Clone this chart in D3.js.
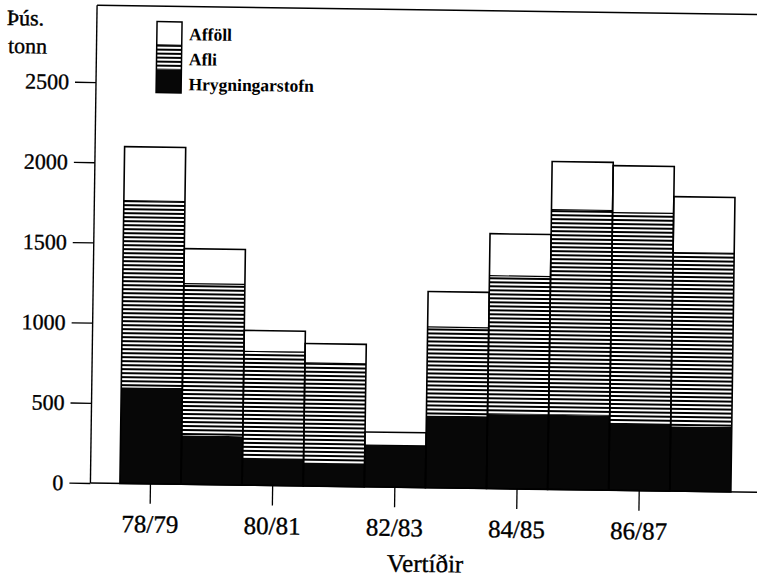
<!DOCTYPE html>
<html>
<head>
<meta charset="utf-8">
<script src="https://cdn.jsdelivr.net/npm/d3@7"></script>
<style>
  html, body { margin: 0; padding: 0; background: #fff; }
  svg { display: block; }
  text { font-family: "Liberation Serif", "Times New Roman", serif; fill: #000; }
</style>
</head>
<body>
<svg id="chart" width="757" height="580"></svg>
<script>
// ---- data (thousand tonnes) ----
const seasons = ["78/79","79/80","80/81","81/82","82/83","83/84","84/85","85/86","86/87","87/88"];
const hrygningarstofn = [600, 305, 170, 145, 260, 450, 465, 465, 420, 405];
const afli            = [1163, 946, 664, 622,   0, 552, 862, 1279, 1311, 1082];
const affoll          = [337, 218, 131, 121,  82, 221, 262, 300, 293, 349];
const xTickLabels = ["78/79","80/81","82/83","84/85","86/87"];
const yTickValues = [0, 500, 1000, 1500, 2000, 2500];
const seriesKeys = ["Hrygningarstofn", "Afli", "Afföll"];
const legendOrder = ["Afföll", "Afli", "Hrygningarstofn"];

const rows = seasons.map((s, i) => ({
  season: s,
  "Hrygningarstofn": hrygningarstofn[i],
  "Afli": afli[i],
  "Afföll": affoll[i]
}));

const svg = d3.select("#chart");
const defs = svg.append("defs");
const hatch = defs.append("pattern")
  .attr("id", "hatch").attr("patternUnits", "userSpaceOnUse")
  .attr("width", 8).attr("height", 4);
hatch.append("rect").attr("width", 8).attr("height", 4).attr("fill", "#fff");
hatch.append("rect").attr("y", 0).attr("width", 8).attr("height", 2).attr("fill", "#000");

const fills = { "Hrygningarstofn": "#070707", "Afli": "url(#hatch)", "Afföll": "#fff" };

// whole scanned page is slightly rotated
const g = svg.append("g").attr("transform", "rotate(0.8,400,300)");

const axisX = 93;
const topY = 9.5;
const x = d3.scaleBand().domain(seasons).range([122.5, 733.5]).padding(0);
const y = d3.scaleLinear().domain([0, 2500]).range([487.3, 86.3]);

const stack = d3.stack().keys(seriesKeys);
const stacked = stack(rows);

// bars
const layers = g.append("g").selectAll("g").data(stacked).join("g")
  .attr("fill", d => fills[d.key]);
layers.selectAll("rect").data(d => d).join("rect")
  .attr("x", d => x(d.data.season))
  .attr("width", x.bandwidth())
  .attr("y", d => y(d[1]))
  .attr("height", d => y(d[0]) - y(d[1]));

// segment boundary lines and bar outlines
const topLayer = stacked[stacked.length - 1];
g.append("g").selectAll("line").data(stacked[1]).join("line")
  .attr("x1", d => x(d.data.season)).attr("x2", d => x(d.data.season) + x.bandwidth())
  .attr("y1", d => y(d[1])).attr("y2", d => y(d[1]))
  .attr("stroke", "#000").attr("stroke-width", 1.2);
g.append("g").selectAll("rect").data(topLayer).join("rect")
  .attr("x", d => x(d.data.season))
  .attr("width", x.bandwidth())
  .attr("y", d => y(d[1]))
  .attr("height", d => y(0) - y(d[1]))
  .attr("fill", "none").attr("stroke", "#000").attr("stroke-width", 1.6);

// frame: left axis, top line, bottom axis
g.append("line").attr("x1", axisX).attr("x2", axisX).attr("y1", topY).attr("y2", y(0))
  .attr("stroke", "#000").attr("stroke-width", 1.4);
g.append("line").attr("x1", axisX).attr("x2", 780).attr("y1", topY).attr("y2", topY)
  .attr("stroke", "#000").attr("stroke-width", 1.6);
g.append("line").attr("x1", axisX).attr("x2", 780).attr("y1", y(0)).attr("y2", y(0))
  .attr("stroke", "#000").attr("stroke-width", 1.4);

// y axis
const yAxis = d3.axisLeft(y).tickValues(yTickValues).tickSize(21).tickPadding(6).tickFormat(d3.format("d"));
const ya = g.append("g").attr("transform", `translate(${axisX},0)`).call(yAxis);
ya.select(".domain").remove();
ya.selectAll("line").attr("stroke", "#000").attr("stroke-width", 1.3);
ya.selectAll("text").attr("font-size", 22).attr("stroke", "#000").attr("stroke-width", 0.35);

// x axis
const xAxis = d3.axisBottom(x).tickValues(xTickLabels).tickSize(20).tickPadding(11);
const xa = g.append("g").attr("transform", `translate(0,${y(0)})`).call(xAxis);
xa.select(".domain").remove();
xa.selectAll("line").attr("stroke", "#000").attr("stroke-width", 1.3);
xa.selectAll("text").attr("font-size", 25).attr("stroke", "#000").attr("stroke-width", 0.35);

// axis titles
g.append("text").attr("x", 3).attr("y", 30.5).attr("font-size", 22)
  .attr("stroke", "#000").attr("stroke-width", 0.45).text("Þús.");
g.append("text").attr("x", 4.5).attr("y", 58.5).attr("font-size", 22)
  .attr("stroke", "#000").attr("stroke-width", 0.35).text("tonn");
g.append("text").attr("x", 428.8).attr("y", 571.6).attr("text-anchor", "middle")
  .attr("font-size", 25).attr("stroke", "#000").attr("stroke-width", 0.35).text("Vertíðir");

// legend
const lg = g.append("g");
const boxX = 153.2, boxW = 25;
const segBounds = [[25, 48.3], [48.3, 72.6], [72.6, 96]];
legendOrder.forEach((k, i) => {
  lg.append("rect").attr("x", boxX).attr("width", boxW)
    .attr("y", segBounds[i][0]).attr("height", segBounds[i][1] - segBounds[i][0])
    .attr("fill", fills[k]);
  lg.append("text").attr("x", 185.5).attr("y", [43.2, 68.2, 93.2][i])
    .attr("font-size", 17.5).attr("font-weight", "bold").text(k);
});
lg.append("line").attr("x1", boxX).attr("x2", boxX + boxW).attr("y1", 48.3).attr("y2", 48.3)
  .attr("stroke", "#000").attr("stroke-width", 1.2);
lg.append("rect").attr("x", boxX).attr("y", 25).attr("width", boxW).attr("height", 71)
  .attr("fill", "none").attr("stroke", "#000").attr("stroke-width", 1.5);
</script>
</body>
</html>
